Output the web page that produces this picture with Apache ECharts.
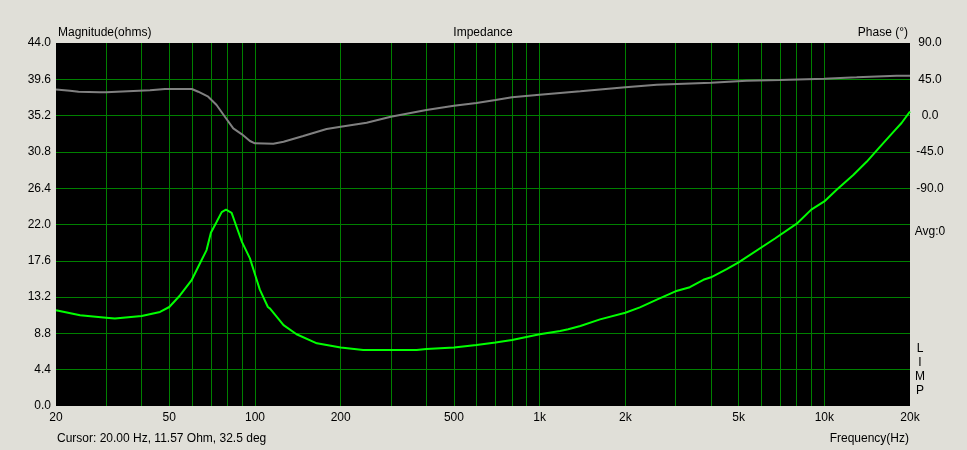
<!DOCTYPE html>
<html><head><meta charset="utf-8">
<script src="https://cdn.jsdelivr.net/npm/echarts@6/dist/echarts.min.js"></script>
<style>html,body{margin:0;padding:0;background:#e0dfd8}#c{width:967px;height:450px}</style>
</head><body><div id="c"></div>
<script>
// Impedance magnitude (ohms) vs frequency (Hz)
const magFreq = [20,24.3,30,32.2,40,46.4,50,54.5,60,64.1,67.6,70,73.3,76.4,79.1,82.8,86.2,90,96,101.4,104,111,113,126,140,165,200,240,300,370,400,500,600,700,800,1000,1180,1260,1390,1630,2000,2250,2580,3000,3370,3760,4000,4540,5000,6710,8000,9000,10000,11050,12640,14080,15680,17460,18680,20000];
const magOhm  = [11.6,11.0,10.7,10.6,10.9,11.4,12.0,13.4,15.3,17.3,18.9,21.0,22.3,23.5,23.8,23.4,21.7,19.9,17.9,15.3,14.1,12.0,11.8,9.8,8.7,7.6,7.1,6.8,6.8,6.8,6.9,7.1,7.4,7.7,8.0,8.7,9.1,9.3,9.7,10.5,11.3,11.95,12.9,13.9,14.4,15.3,15.6,16.6,17.4,20.3,22.1,23.8,24.8,26.2,28.0,29.6,31.4,33.2,34.3,35.7];
// Phase (deg) vs frequency (Hz)
const phaseFreq = [20,22.4,24,28.5,30,37.4,42.8,48.3,60,63.2,68.5,73.3,78.4,83.9,90,96,100,116,126,147.8,178.5,200,246.8,300,400,500,600,700,800,1000,1390,2000,2580,4000,5330,6980,10000,12990,17950,20000];
const phaseDeg  = [32.5,30.9,29.6,28.9,28.9,30.5,31.4,33.0,33.0,29.6,23.4,13.1,-1.4,-15.8,-23.2,-31.5,-34.4,-34.8,-32.4,-25.3,-16.6,-13.7,-8.8,-1.4,6.9,12.3,15.6,19.3,22.7,25.9,30.1,35.1,38.3,40.8,43.3,44.1,45.8,47.4,49.5,49.5];
// Axes
const freqGridLines = [30,40,50,60,70,80,90,100,200,300,400,500,600,700,800,900,1000,2000,3000,4000,5000,6000,7000,8000,9000,10000];
const freqTickLabels = [20,50,100,200,500,1000,2000,5000,10000,20000];
const magMin = 0, magMax = 44, magStep = 4.4;
const phaseMin = -360, phaseMax = 90, phaseStep = 45, phaseLabelFloor = -90;

const zip = (a, b) => a.map((v, i) => [v, b[i]]);
const FONT = '12px "Liberation Sans", Arial, sans-serif';
const GRID_GREEN = '#008000';

const chart = echarts.init(document.getElementById('c'));
chart.setOption({
  backgroundColor: '#e0dfd8',
  animation: false,
  grid: { left: 56, right: 57, top: 43, bottom: 44, show: true, backgroundColor: '#000', borderWidth: 0 },
  xAxis: {
    type: 'log', logBase: 10, min: 20, max: 20000,
    axisLine: { show: false },
    axisTick: { show: false, customValues: freqGridLines },
    splitLine: { show: true, showMinLine: true, showMaxLine: true, lineStyle: { color: GRID_GREEN, width: 1 } },
    axisLabel: {
      customValues: freqTickLabels, margin: 6, color: '#000', fontSize: 12,
      fontFamily: '"Liberation Sans", Arial, sans-serif',
      formatter: v => v >= 1000 ? (v / 1000) + 'k' : String(v)
    }
  },
  yAxis: [
    {
      type: 'value', min: magMin, max: magMax, interval: magStep,
      axisLine: { show: false }, axisTick: { show: false },
      axisLabel: { margin: 5, color: '#000', fontSize: 12, fontFamily: '"Liberation Sans", Arial, sans-serif',
        formatter: v => v.toFixed(1) },
      splitLine: { show: true, showMinLine: false, showMaxLine: false, lineStyle: { color: GRID_GREEN, width: 1 } }
    },
    {
      type: 'value', position: 'right', min: phaseMin, max: phaseMax, interval: phaseStep,
      axisLine: { show: false }, axisTick: { show: false }, splitLine: { show: false },
      axisLabel: { margin: 20, align: 'center', color: '#000', fontSize: 12, fontFamily: '"Liberation Sans", Arial, sans-serif',
        formatter: v => v >= phaseLabelFloor ? v.toFixed(1) : '' }
    }
  ],
  series: [
    {
      name: 'Phase', type: 'line', yAxisIndex: 1, z: 3, showSymbol: false, silent: true,
      data: zip(phaseFreq, phaseDeg),
      lineStyle: { color: '#808080', width: 2 }, itemStyle: { color: '#808080' }
    },
    {
      name: 'Magnitude', type: 'line', yAxisIndex: 0, z: 4, showSymbol: false, silent: true,
      data: zip(magFreq, magOhm),
      lineStyle: { color: '#00ff00', width: 2 }, itemStyle: { color: '#00ff00' }
    }
  ],
  graphic: [
    { type: 'text', x: 58, y: 33, style: { text: 'Magnitude(ohms)', font: FONT, fill: '#000', align: 'left', verticalAlign: 'middle' } },
    { type: 'text', x: 483, y: 33, style: { text: 'Impedance', font: FONT, fill: '#000', align: 'center', verticalAlign: 'middle' } },
    { type: 'text', x: 908, y: 33, style: { text: 'Phase (°)', font: FONT, fill: '#000', align: 'right', verticalAlign: 'middle' } },
    { type: 'text', x: 930, y: 232, style: { text: 'Avg:0', font: FONT, fill: '#000', align: 'center', verticalAlign: 'middle' } },
    { type: 'text', x: 920, y: 370, style: { text: 'L\nI\nM\nP', font: FONT, lineHeight: 14, fill: '#000', align: 'center', verticalAlign: 'middle' } },
    { type: 'text', x: 57, y: 439, style: { text: 'Cursor: 20.00 Hz, 11.57 Ohm, 32.5 deg', font: FONT, fill: '#000', align: 'left', verticalAlign: 'middle' } },
    { type: 'text', x: 909, y: 439, style: { text: 'Frequency(Hz)', font: FONT, fill: '#000', align: 'right', verticalAlign: 'middle' } }
  ]
});
</script></body></html>
